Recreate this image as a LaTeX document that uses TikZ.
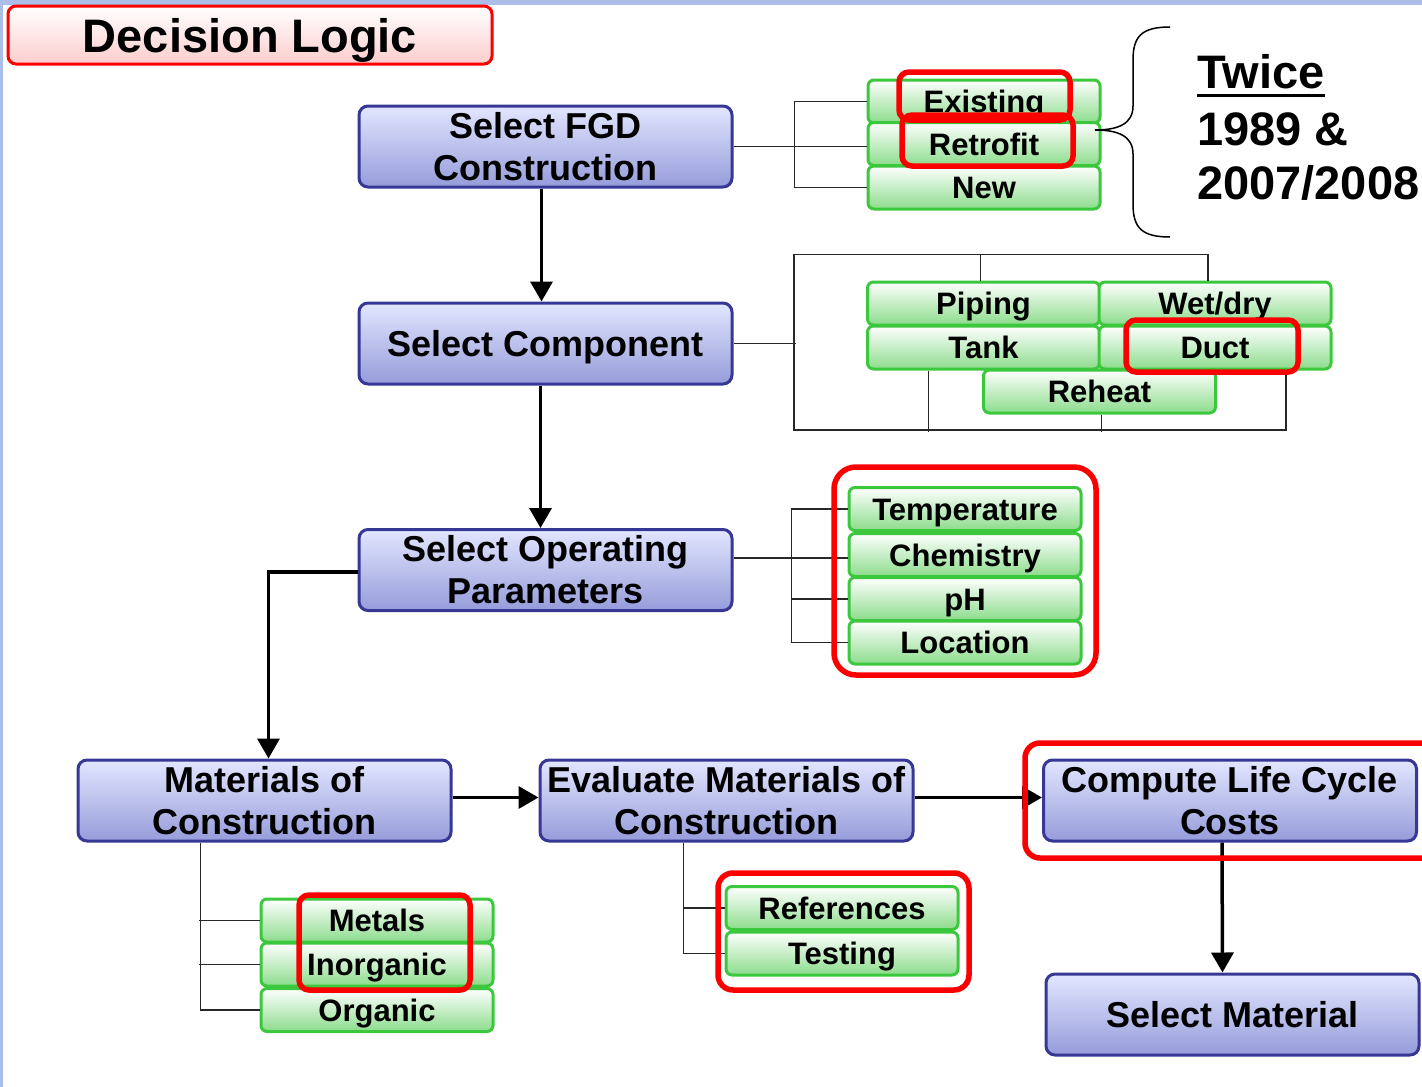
\documentclass[tikz,border=0pt]{standalone}
\usepackage{fontspec}
\setmainfont{Liberation Sans}
\usetikzlibrary{arrows.meta}
\definecolor{bgblue}{RGB}{170,190,232}
\definecolor{bluebd}{RGB}{55,55,150}
\definecolor{bluetop}{RGB}{226,230,255}
\definecolor{bluebot}{RGB}{150,156,218}
\definecolor{greenbd}{RGB}{60,200,60}
\definecolor{greenbot}{RGB}{140,220,140}
\definecolor{hlred}{RGB}{250,0,0}
\definecolor{titlebot}{RGB}{252,205,205}
\definecolor{connc}{RGB}{40,40,40}
\begin{document}
\begin{tikzpicture}[x=1pt,y=-1pt,
  bluebox/.style={draw=bluebd, line width=3pt, rounded corners=9pt,
    top color=bluetop, bottom color=bluebot, minimum width=373pt,
    minimum height=81pt, align=center, inner sep=0pt,
    font=\fontsize{36}{42}\selectfont\bfseries},
  greenbox/.style={draw=greenbd, line width=3pt, rounded corners=6pt,
    top color=white, bottom color=greenbot, minimum width=232pt,
    minimum height=43pt, inner sep=0pt, text height=22.5pt, text depth=0pt,
    font=\fontsize{31}{36}\selectfont\bfseries},
  titlebox/.style={draw=hlred, line width=3pt, rounded corners=8pt,
    top color=white, bottom color=titlebot, minimum width=484pt,
    minimum height=58pt, inner sep=0pt, text height=34pt, text depth=0pt,
    font=\fontsize{47}{52}\selectfont\bfseries},
  yeartext/.style={anchor=base west, inner sep=0pt,
    font=\fontsize{47}{52}\selectfont\bfseries},
  redhl/.style={draw=hlred, line width=5.5pt, rounded corners=10pt},
  conn/.style={draw=connc, line width=1.5pt},
  arr/.style={draw=black, line width=3.5pt, -{Triangle[length=20pt,width=22pt]}}
]
\useasboundingbox (0,0) rectangle (1422,1087);
\fill[bgblue] (0,0) rectangle (1422,1087);
\fill[white] (3,5) rectangle (1422,1087);

% title
\node[titlebox] (title) at (250,35) {Decision Logic};

% main blue boxes
\node[bluebox] (fgd) at (545.5,146.5) {Select FGD\\Construction};
\node[bluebox, text depth=0pt] (compn) at (545.5,343.5) {Select Component};
\node[bluebox] (op) at (545.5,570) {Select Operating\\Parameters};
\node[bluebox] (mat) at (264.5,800.5) {Materials of\\Construction};
\node[bluebox] (ev) at (726.5,800.5) {Evaluate Materials of\\Construction};
\node[bluebox] (lcc) at (1230,800.5) {Compute Life Cycle\\Costs};
\node[bluebox, text depth=0pt] (sm) at (1232.5,1014.5) {Select Material};

% arrows
\draw[arr] ([xshift=-4pt]fgd.south) -- ([xshift=-4pt]compn.north);
\draw[arr] ([xshift=-5pt]compn.south) -- ([xshift=-5pt]op.north);
\draw[arr] ([yshift=-2pt]op.west) -| ([xshift=4pt]mat.north);
\draw[arr] ([yshift=3pt]mat.east) -- ([yshift=3pt]ev.west);
\draw[arr] ([yshift=3pt]ev.east) -- ([yshift=3pt]lcc.west);
\draw[arr] ([xshift=-8pt]lcc.south) -- ([xshift=-10pt]sm.north);

% construction options
\node[greenbox] (ex) at (984,101.5) {Existing};
\node[greenbox] (re) at (984,144) {Retrofit};
\node[greenbox] (new) at (984,187.5) {New};
\draw[conn] (ex.west) -- ++(-72,0) |- (new.west);
\draw[conn] (fgd.east) -- (fgd.east -| re.west);

% brace and years
\draw[line width=1.5pt] (1170,27) .. controls (1142,27) and (1133,36) .. (1133,60)
  -- (1133,106) .. controls (1133,124) and (1118,130) .. (1095,130)
  .. controls (1118,130) and (1133,136) .. (1133,154)
  -- (1133,204) .. controls (1133,228) and (1142,237) .. (1170,237);
\node[yeartext] (tw) at (1197,88) {Twice};
\draw[line width=3pt] ([yshift=-7pt]tw.base west) -- ([yshift=-7pt]tw.base east);
\node[yeartext] (y1) at (1197,145) {1989 \&};
\node[yeartext] (y2) at (1197,199) {2007/2008};

% components
\node[greenbox] (pip) at (983.5,303.5) {Piping};
\node[greenbox] (wet) at (1215,303.5) {Wet/dry};
\node[greenbox] (tank) at (983.5,347.5) {Tank};
\node[greenbox] (duct) at (1215,347.5) {Duct};
\node[greenbox] (reh) at (1099.5,391.5) {Reheat};
\draw[conn] ([xshift=-7pt]wet.north) -- ++(0,-26) -| (794,430) -| ([xshift=71pt]duct.south);
\draw[conn] ([xshift=-3pt]pip.north) -- ++(0,-26);
\draw[conn] ([xshift=-55pt]tank.south) -- ++(0,61);
\draw[conn] ([xshift=2pt]reh.south) -- ++(0,17);
\draw[conn] (compn.east) -- ++(62,0);

% operating parameters
\node[greenbox] (temp) at (965,509) {Temperature};
\node[greenbox] (chem) at (965,555) {Chemistry};
\node[greenbox] (ph) at (965,599) {pH};
\node[greenbox] (loc) at (965,642.5) {Location};
\draw[conn] (temp.west) -- ++(-56,0) |- (loc.west);
\draw[conn] (ph.west) -- ++(-56,0);
\draw[conn] ([yshift=12pt]op.east) -- ([yshift=12pt]op.east -| chem.west);

% materials
\node[greenbox] (met) at (377,920.5) {Metals};
\node[greenbox] (inorg) at (377,964.5) {Inorganic};
\node[greenbox] (org) at (377,1010) {Organic};
\draw[conn] ([xshift=-64pt]mat.south) |- (org.west);
\draw[conn] (met.west) -- ++(-61,0);
\draw[conn] (inorg.west) -- ++(-61,0);

% evaluation
\node[greenbox] (refs) at (842,908) {References};
\node[greenbox] (test) at (842,953.5) {Testing};
\draw[conn] ([xshift=-43pt]ev.south) |- (test.west);
\draw[conn] (refs.west) -- ++(-42,0);

% red highlights
\draw[redhl] (899,72) rectangle (1070,120);
\draw[redhl] (902,115) rectangle (1073,166);
\draw[redhl] (1126,320) rectangle (1298,372);
\draw[redhl, rounded corners=22pt] (834,467) rectangle (1096,675);
\draw[redhl] (299,895) rectangle (470,990);
\draw[redhl, rounded corners=15pt] (718,873) rectangle (969,990);
\draw[redhl, rounded corners=15pt] (1025,743) rectangle (1445,858);
\end{tikzpicture}
\end{document}
